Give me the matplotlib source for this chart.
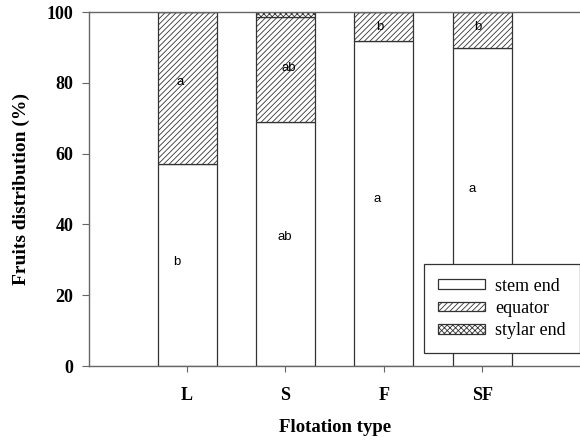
import matplotlib
matplotlib.use("Agg")
import matplotlib.pyplot as plt
import numpy as np

plt.rcParams['hatch.linewidth'] = 0.6

categories = ['L', 'S', 'F', 'SF']
stem_end = [57.2, 69.0, 91.7, 89.8]
equator = [42.8, 29.5, 8.3, 10.2]
stylar_end = [0.0, 1.5, 0.0, 0.0]

# significance letters and where they sit (x, y)
letters_stem = ['b', 'ab', 'a', 'a']
letters_eq = ['a', 'ab', 'b', 'b']
stem_lbl_pos = [(0.89, 29.4), (1.99, 36.4), (2.93, 47.2), (3.90, 50.0)]
eq_lbl_pos = [(0.93, 80.2), (2.03, 84.2), (2.96, 95.8), (3.96, 95.8)]

x = np.arange(1, len(categories) + 1)
w = 0.6

fig = plt.figure(figsize=(5.8, 4.4), dpi=100)
ax = fig.add_axes([0.153, 0.168, 0.848, 0.8045])

bottom2 = np.array(stem_end)
bottom3 = bottom2 + np.array(equator)
ax.bar(x, stem_end, w, color='white', edgecolor='#333333', linewidth=0.9, label='stem end')
ax.bar(x, equator, w, bottom=bottom2, color='white', edgecolor='#333333', hatch='//////',
       linewidth=0.9, label='equator')
ax.bar(x, stylar_end, w, bottom=bottom3, color='white', edgecolor='#333333', hatch='xxxxxx',
       linewidth=0.9, label='stylar end')

for (px, py), t in zip(stem_lbl_pos, letters_stem):
    ax.text(px, py, t, ha='center', va='center', fontsize=9.5, family='Liberation Sans')
for (px, py), t in zip(eq_lbl_pos, letters_eq):
    ax.text(px, py, t, ha='center', va='center', fontsize=9.5, family='Liberation Sans')

ax.set_xlim(0, 5)
ax.set_ylim(0, 100)
ax.set_xticks(x)
ax.set_xticklabels(categories)
ax.set_yticks([0, 20, 40, 60, 80, 100])

for lab in ax.get_xticklabels() + ax.get_yticklabels():
    lab.set_fontfamily('Liberation Serif')
    lab.set_fontweight('bold')
    lab.set_fontsize(13)

ax.tick_params(axis='y', direction='out', length=5, width=0.8, color='#666666', pad=6)
ax.tick_params(axis='x', direction='out', length=4, width=0.8, color='#666666', pad=11)

for s in ['left', 'bottom', 'top']:
    ax.spines[s].set_color('#666666')
    ax.spines[s].set_linewidth(1.0)
ax.spines['right'].set_visible(False)

ax.set_xlabel('Flotation type', fontfamily='Liberation Serif', fontweight='bold',
              fontsize=13.5, labelpad=11)
ax.set_ylabel('Fruits distribution (%)', fontfamily='Liberation Serif', fontweight='bold',
              fontsize=14, labelpad=12)

leg = ax.legend(loc='lower right', bbox_to_anchor=(0.998, 0.037), borderaxespad=0,
                prop={'family': 'Liberation Serif', 'size': 13}, fancybox=False,
                edgecolor='#333333', framealpha=1, handlelength=2.6, handleheight=0.45,
                borderpad=0.75, labelspacing=0.3, handletextpad=0.6)
leg.get_frame().set_linewidth(0.9)

fig.savefig('out.png', dpi=100)
